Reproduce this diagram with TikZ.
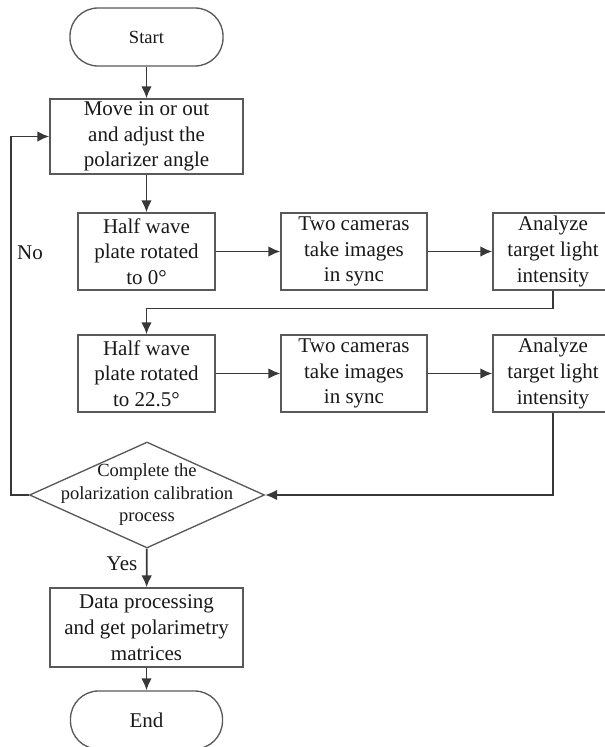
\documentclass[tikz,border=0pt]{standalone}
\usepackage{fontspec}
\setmainfont{Liberation Serif}
\newfontfamily\chartfont{Liberation Serif}
\usetikzlibrary{shapes.geometric,arrows.meta}

\tikzset{
  flowbox/.style={draw=black!65, line width=1pt, fill=white, inner sep=0pt, align=center,
    font=\chartfont\fontsize{15.75pt}{19.3pt}\selectfont, text=black!90},
  termbox/.style={flowbox, rounded corners=21pt},
  decision/.style={draw=black!65, line width=1pt, shape=diamond, inner sep=0pt,
    minimum width=176.25pt, minimum height=79.5pt},
  flowline/.style={draw=black!78, line width=1.4pt, -{Latex[length=9pt,width=8pt]}},
  smalltext/.style={font=\chartfont\fontsize{13.9pt}{16.9pt}\selectfont, align=center, text=black!90},
}

\begin{document}
\begin{tikzpicture}[x=0.75pt,y=0.75pt]

\clip (0, 0) rectangle (605, 747);

\node (start) [termbox, minimum width=114.75pt, minimum height=43.5pt] at (146.5, 710) {};
\node (starttext) [smalltext] at (start) {Start};

\node (move) [flowbox, minimum width=144.75pt, minimum height=56.25pt] at (146.5, 610.5) {Move in or out\\and adjust the\\polarizer angle};

% first pass, 0 deg
\node (hwa) [flowbox, minimum width=102.75pt, minimum height=57.75pt] at (146.5, 495.5) {Half wave\\plate rotated\\to 0°};
\node (cama) [flowbox, minimum width=109.5pt, minimum height=57.75pt] at (354, 495.5) {Two cameras\\take images\\in sync};
\node (anaa) [flowbox, minimum width=90pt, minimum height=57.75pt] at (553, 495.5) {Analyze\\target light\\intensity};

% second pass, 22.5 deg
\node (hwb) [flowbox, minimum width=102.75pt, minimum height=57.75pt] at (146.5, 373.5) {Half wave\\plate rotated\\to 22.5°};
\node (camb) [flowbox, minimum width=109.5pt, minimum height=57.75pt] at (354, 373.5) {Two cameras\\take images\\in sync};
\node (anab) [flowbox, minimum width=90pt, minimum height=57.75pt] at (553, 373.5) {Analyze\\target light\\intensity};

\node (check) [decision] at (147, 252) {};
\node (checktext) [smalltext] at (check) {Complete the\\polarization calibration\\process};

\node (data) [flowbox, minimum width=144.75pt, minimum height=59.25pt] at (146.5, 119.5) {Data processing\\and get polarimetry\\matrices};

\node (finish) [termbox, minimum width=114pt, minimum height=43.5pt] at (146.5, 27) {};
\node (finishtext) [flowbox, draw=none, fill=none] at (finish) {End};

\coordinate (turn) at (350, 438.5);
\coordinate (back) at (11, 252);

\draw [flowline] (start) -- (move);
\draw [flowline] (move) -- (hwa);
\draw [flowline] (hwa) -- (cama);
\draw [flowline] (cama) -- (anaa);
\draw [flowline] (anaa.south) |- (turn) -| (hwb.north);
\draw [flowline] (hwb) -- (camb);
\draw [flowline] (camb) -- (anab);
\draw [flowline] (anab.south) |- (check.east);
\draw [flowline] (check.west) -- (back) |- (move.west);
\draw [flowline] (check) -- (data);
\draw [flowline] (data) -- (finish);

\node (no) [flowbox, draw=none, fill=none] at (30, 494) {No};
\node (yes) [flowbox, draw=none, fill=none] at (122, 183) {Yes};

\end{tikzpicture}
\end{document}
